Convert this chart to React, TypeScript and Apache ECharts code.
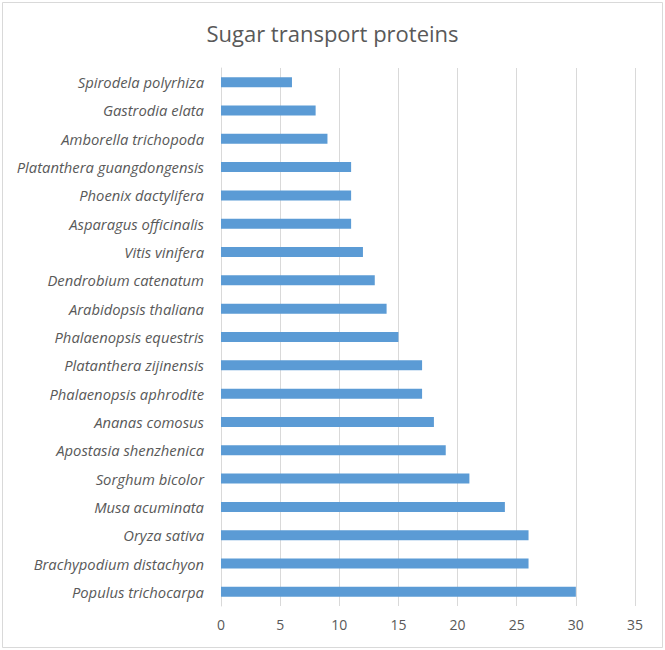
import React, { useEffect, useRef } from "react";
import * as echarts from "echarts";

const species = [
  "Spirodela polyrhiza",
  "Gastrodia elata",
  "Amborella trichopoda",
  "Platanthera guangdongensis",
  "Phoenix dactylifera",
  "Asparagus officinalis",
  "Vitis vinifera",
  "Dendrobium catenatum",
  "Arabidopsis thaliana",
  "Phalaenopsis equestris",
  "Platanthera zijinensis",
  "Phalaenopsis aphrodite",
  "Ananas comosus",
  "Apostasia shenzhenica",
  "Sorghum bicolor",
  "Musa acuminata",
  "Oryza sativa",
  "Brachypodium distachyon",
  "Populus trichocarpa",
];

const counts = [6, 8, 9, 11, 11, 11, 12, 13, 14, 15, 17, 17, 18, 19, 21, 24, 26, 26, 30];

const titleText = "Sugar transport proteins";

export default function App() {
  const ref = useRef<HTMLDivElement>(null);
  useEffect(() => {
    if (!ref.current) return;
    const chart = echarts.init(ref.current, undefined, { renderer: "svg" });
    chart.setOption({
      animation: false,
      backgroundColor: "#ffffff",
      title: {
        text: titleText,
        left: "center",
        top: 17,
        textStyle: {
          fontFamily: "Open Sans",
          fontSize: 22,
          fontWeight: "normal",
          color: "#595959",
        },
      },
      graphic: [
        {
          type: "rect",
          shape: { x: 2.5, y: 2.5, width: 660, height: 645 },
          style: { fill: "none", stroke: "#d9d9d9", lineWidth: 1 },
          silent: true,
        },
      ],
      grid: {
        left: 221,
        right: 30,
        top: 68,
        bottom: 44,
        containLabel: false,
      },
      xAxis: {
        type: "value",
        min: 0,
        max: 35,
        interval: 5,
        axisLine: { show: false },
        axisTick: { show: false },
        splitLine: { show: true, lineStyle: { color: "#d9d9d9", width: 1 } },
        axisLabel: {
          color: "#595959",
          fontFamily: "Open Sans",
          fontSize: 14,
          margin: 11,
        },
      },
      yAxis: {
        type: "category",
        data: species,
        inverse: true,
        axisLine: { show: true, lineStyle: { color: "#d9d9d9" } },
        axisTick: { show: false },
        axisLabel: {
          color: "#595959",
          fontFamily: "Open Sans",
          fontStyle: "italic",
          fontSize: 14.8,
          margin: 17,
        },
      },
      series: [
        {
          type: "bar",
          data: counts,
          barWidth: 10,
          itemStyle: { color: "#5B9BD5" },
        },
      ],
    });
    return () => chart.dispose();
  }, []);
  return (
    <div
      ref={ref}
      style={{ position: "absolute", left: 0, top: 0, width: 665, height: 650 }}
    />
  );
}
